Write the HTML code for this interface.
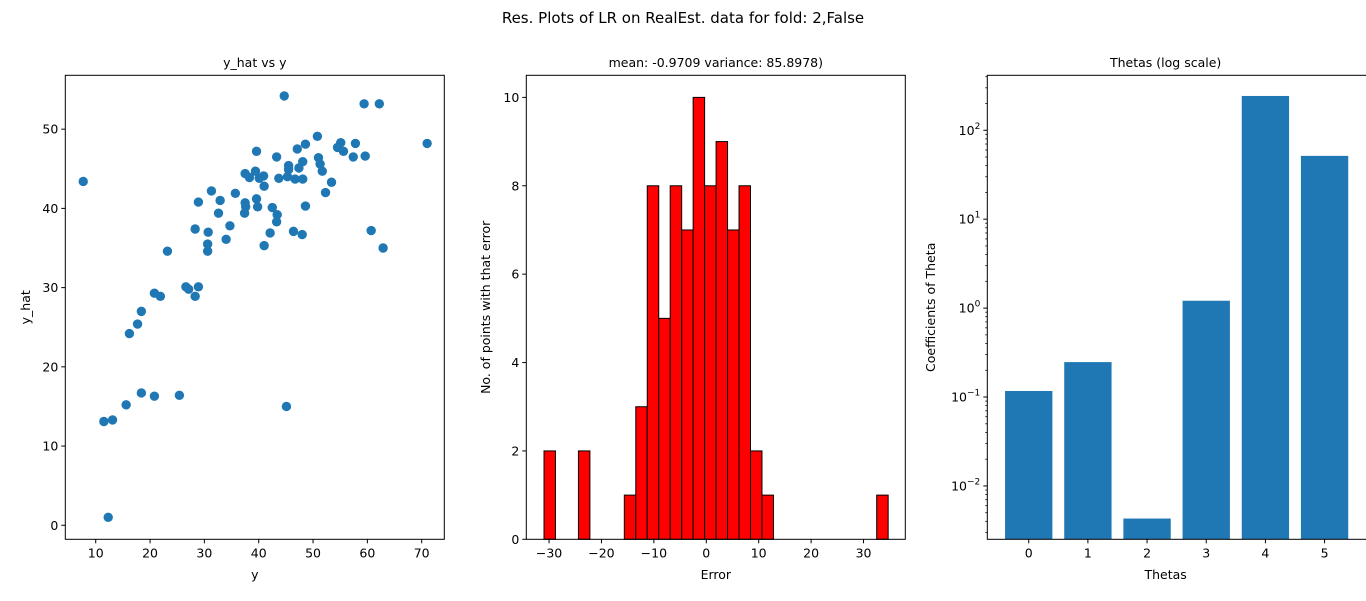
<!DOCTYPE html>
<html><head><meta charset="utf-8"><style>
html,body{margin:0;padding:0;background:#fff;}
svg{display:block;font-family:"DejaVu Sans","Liberation Sans",sans-serif;}
</style></head><body>
<svg id="fig" width="1366" height="601" viewBox="0 0 1366 601" xmlns="http://www.w3.org/2000/svg">
<rect width="1366" height="601" fill="#fff"/>
<text x="683" y="23" text-anchor="middle" font-size="15">Res. Plots of LR on RealEst. data for fold: 2,False</text>
</svg>
<script>
const scatterY = [7.7,44.7,59.4,62.2,50.8,71.0,55.1,57.8,48.6,47.1,39.6,54.5,55.6,43.3,57.4,59.6,51.0,48.1,51.3,51.7,45.5,45.5,47.4,37.5,39.4,40.9,38.3,40.1,43.7,45.3,46.7,48.1,41.0,53.4,31.3,35.7,52.3,28.9,32.9,37.5,37.6,39.6,39.8,32.6,37.4,42.5,43.4,43.3,48.6,28.3,30.7,34.7,42.1,46.4,48.0,60.7,30.6,34.0,41.0,30.6,23.2,62.9,26.6,27.1,28.9,28.3,20.8,21.9,18.4,17.7,16.2,18.4,20.8,25.4,15.6,45.1,11.5,13.1,12.3];
const scatterYhat = [43.4,54.2,53.2,53.2,49.1,48.2,48.3,48.2,48.1,47.5,47.2,47.7,47.2,46.5,46.5,46.6,46.4,45.9,45.6,44.7,45.4,44.9,45.1,44.4,44.7,44.1,43.9,43.8,43.8,44.0,43.7,43.7,42.8,43.3,42.2,41.9,42.0,40.8,41.0,40.7,40.2,41.2,40.2,39.4,39.4,40.1,39.2,38.3,40.3,37.4,37.0,37.8,36.9,37.1,36.7,37.2,35.5,36.1,35.3,34.6,34.6,35.0,30.1,29.8,30.1,28.9,29.3,28.9,27.0,25.4,24.2,16.7,16.3,16.4,15.2,15.0,13.1,13.3,1.0];
const scatterXTicks = [10,20,30,40,50,60,70];
const scatterYTicks = [0,10,20,30,40,50];

const histCounts = [2,0,0,2,0,0,0,1,3,8,5,8,7,10,8,9,7,8,2,1,0,0,0,0,0,0,0,0,0,1];
const histStart = -30.96;
const histEnd = 34.7;
const histXTicks = [-30,-20,-10,0,10,20,30];
const histYTicks = [0,2,4,6,8,10];

const thetaCats = [0,1,2,3,4,5];
const thetaVals = [0.117,0.247,0.0043,1.21,243,51.5];
const thetaYTicks = [-2,-1,0,1,2];

const svg = document.getElementById('fig');
const NS = 'http://www.w3.org/2000/svg';
function mk(tag, attrs, parent){const e=document.createElementNS(NS,tag);for(const k in attrs)e.setAttribute(k,attrs[k]);(parent||svg).appendChild(e);return e;}
const TOP=75.3, BOT=539.3;

function frame(g,L,R){mk('rect',{x:L,y:TOP,width:R-L,height:BOT-TOP,fill:'none',stroke:'#000','stroke-width':1},g);}
function xtick(g,px,label){mk('line',{x1:px,x2:px,y1:BOT,y2:BOT+4,stroke:'#000'},g);const t=mk('text',{x:px,y:BOT+18,'text-anchor':'middle','font-size':12.5},g);t.textContent=label;}
function ytick(g,L,py,label,sup){mk('line',{x1:L-4,x2:L,y1:py,y2:py,stroke:'#000'},g);const t=mk('text',{x:L-7,y:py+4.5,'text-anchor':'end','font-size':12.5},g);if(sup!==undefined){t.textContent='10';const s=mk('tspan',{dy:-6,'font-size':9},t);s.textContent=sup;}else t.textContent=label;}
function title(g,cx,txt,name){const t=mk('text',{x:cx,y:67,'text-anchor':'middle','font-size':12.5},g);t.textContent=txt;}
function xlabel(g,cx,txt,name){const t=mk('text',{x:cx,y:579,'text-anchor':'middle','font-size':12.5},g);t.textContent=txt;}
function ylabel(g,x,txt,name){const cy=(TOP+BOT)/2;const t=mk('text',{x:x,y:cy,'text-anchor':'middle','font-size':12.5,transform:`rotate(-90 ${x} ${cy})`},g);t.textContent=txt;}

// Scatter
(function(){
  const L=65.3,R=444.3,x0=4.4,x1=74.16,y0=-1.77,y1=56.8;
  const sx=v=>L+(v-x0)/(x1-x0)*(R-L), sy=v=>BOT-(v-y0)/(y1-y0)*(BOT-TOP);
  const g=mk('g',{});
  
  
  scatterY.forEach((v,i)=>{const c=mk('circle',{cx:sx(v),cy:sy(scatterYhat[i]),r:4.7,fill:'#1f77b4'},g);
    
    });
  frame(g,L,R);
  scatterXTicks.forEach(v=>xtick(g,sx(v),v));
  scatterYTicks.forEach(v=>ytick(g,L,sy(v),v));
  title(g,(L+R)/2,'y_hat vs y','scatter-title');
  xlabel(g,(L+R)/2,'y','scatter-x-axis-title');
  ylabel(g,30,'y_hat','scatter-y-axis-title');
})();

// Histogram
(function(){
  const L=526.3,R=905.3,x0=-34.34,x1=37.97,y0=0,y1=10.5;
  const sx=v=>L+(v-x0)/(x1-x0)*(R-L), sy=v=>BOT-(v-y0)/(y1-y0)*(BOT-TOP);
  const g=mk('g',{});
  
  
  const w=(histEnd-histStart)/histCounts.length;
  histCounts.forEach((c,i)=>{const a=histStart+i*w;
    const r=mk('rect',{x:sx(a),y:sy(c),width:sx(a+w)-sx(a),height:sy(0)-sy(c),fill:'#ff0000',stroke:'#000','stroke-width':1},g);
    
    });
  frame(g,L,R);
  histXTicks.forEach(v=>xtick(g,sx(v),v<0?'\u2212'+(-v):v));
  histYTicks.forEach(v=>ytick(g,L,sy(v),v));
  title(g,(L+R)/2,'mean: -0.9709 variance: 85.8978)','histogram-title');
  xlabel(g,(L+R)/2,'Error','histogram-x-axis-title');
  ylabel(g,490,'No. of points with that error','histogram-y-axis-title');
})();

// Log bar chart
(function(){
  const L=987.3,R=1366,x0=-0.7,x1=5.7,y0=-2.60,y1=2.618;
  const sx=v=>L+(v-x0)/(x1-x0)*(R-L), sy=v=>BOT-(Math.log10(v)-y0)/(y1-y0)*(BOT-TOP);
  const g=mk('g',{});
  
  
  thetaCats.forEach((c,i)=>{const v=thetaVals[i];
    const r=mk('rect',{x:sx(c-0.4),y:sy(v),width:sx(c+0.4)-sx(c-0.4),height:BOT-sy(v),fill:'#1f77b4'},g);
    
    });
  frame(g,L,R+2);
  for(let d=-3;d<=2;d++)for(let m=2;m<=9;m++){const v=m*Math.pow(10,d);const lv=Math.log10(v);if(lv<y0||lv>y1)continue;const py=sy(v);mk('line',{x1:L-2,x2:L,y1:py,y2:py,stroke:'#000','stroke-width':0.8},g);}
  thetaCats.forEach(c=>xtick(g,sx(c),c));
  thetaYTicks.forEach(e=>ytick(g,L,sy(Math.pow(10,e)),'',e<0?'\u2212'+(-e):String(e)));
  title(g,(L+R)/2-11,'Thetas (log scale)','thetas-title');
  xlabel(g,(L+R)/2-11,'Thetas','thetas-x-axis-title');
  ylabel(g,935,'Coefficients of Theta','thetas-y-axis-title');
})();
</script>
</body></html>
